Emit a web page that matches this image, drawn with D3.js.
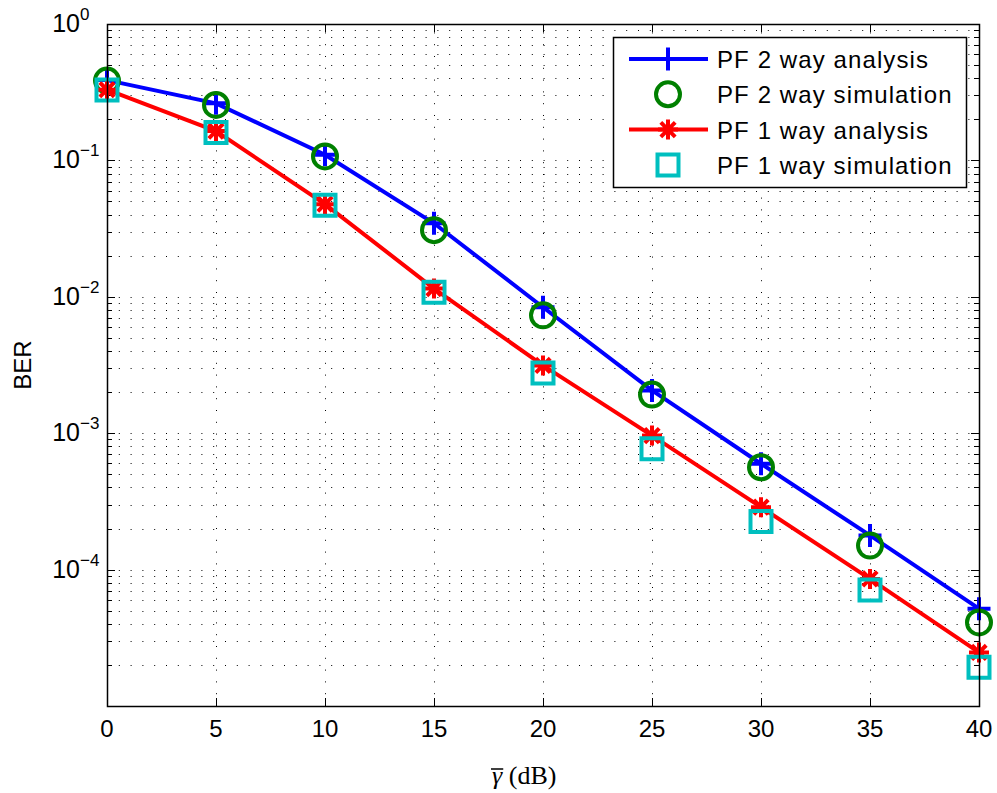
<!DOCTYPE html>
<html>
<head>
<meta charset="utf-8">
<script src="https://cdn.jsdelivr.net/npm/d3@7"></script>
<style>
  body { margin: 0; background: #fff; }
  svg { display: block; }
  text { font-family: "Liberation Sans", Arial, Helvetica, sans-serif; fill: #000; }
</style>
</head>
<body>
<div id="chart"></div>
<script>
// average SNR (dB)
var snr = [0, 5, 10, 15, 20, 25, 30, 35, 40];

// BER curves
var pf2Analysis   = [0.388, 0.262, 0.110, 0.0346, 0.00838, 0.00206, 5.97e-4, 1.78e-4, 5.17e-5];
var pf2Simulation = [0.385, 0.255, 0.107, 0.0308, 0.00731, 0.00192, 5.63e-4, 1.50e-4, 4.10e-5];
var pf1Analysis   = [0.330, 0.164, 0.0478, 0.0115, 0.00314, 9.6e-4, 2.87e-4, 8.55e-5, 2.47e-5];
var pf1Simulation = [0.328, 0.160, 0.0470, 0.0108, 0.00276, 7.7e-4, 2.25e-4, 7.10e-5, 1.92e-5];

var xTicks = [0, 5, 10, 15, 20, 25, 30, 35, 40];
var yTickExps = [0, -1, -2, -3, -4];
var legendLabels = ["PF 2 way analysis", "PF 2 way simulation", "PF 1 way analysis", "PF 1 way simulation"];

var W = 997, H = 793;
var margin = { top: 24, left: 107, bottom: 87, right: 18 };
var width = W - margin.left - margin.right;
var height = H - margin.top - margin.bottom;

var svg = d3.select("#chart").append("svg")
    .attr("width", W)
    .attr("height", H);

svg.append("rect").attr("width", W).attr("height", H).attr("fill", "#fff");

var g = svg.append("g")
    .attr("transform", "translate(" + margin.left + "," + margin.top + ")");

var x = d3.scaleLinear().domain([0, 40]).range([0, width]);
var y = d3.scaleLog().domain([1e-5, 1]).range([height, 0]);

// minor tick values 2..9 x 10^k
var minorTicks = [];
for (var e = -5; e < 0; e++) {
    for (var m = 2; m <= 9; m++) {
        var v = m * Math.pow(10, e);
        if (v >= 1e-5 && v <= 1) minorTicks.push(v);
    }
}
var majorTicks = yTickExps.map(function(k) { return Math.pow(10, k); });

// dotted grid
var grid = g.append("g").attr("class", "grid")
    .attr("stroke", "#000")
    .attr("stroke-width", 1)
    .attr("stroke-dasharray", "1,10.8");

grid.selectAll("line.hy")
    .data(majorTicks.concat(minorTicks).filter(function(d) { return d < 1; }))
    .enter().append("line")
    .attr("x1", 0).attr("x2", width)
    .attr("y1", function(d) { return Math.round(y(d)) + 0.5; })
    .attr("y2", function(d) { return Math.round(y(d)) + 0.5; });

grid.selectAll("line.vx")
    .data(xTicks.slice(1, -1))
    .enter().append("line")
    .attr("y1", height).attr("y2", 0)
    .attr("x1", function(d) { return Math.round(x(d)) + 0.5; })
    .attr("x2", function(d) { return Math.round(x(d)) + 0.5; });

// ticks (inward, all four sides)
var ticks = g.append("g").attr("stroke", "#000").attr("stroke-width", 1);
function yTicks(list, len) {
    list.forEach(function(d) {
        var yy = Math.round(y(d)) + 0.5;
        ticks.append("line").attr("x1", 0).attr("x2", len).attr("y1", yy).attr("y2", yy);
        ticks.append("line").attr("x1", width).attr("x2", width - len).attr("y1", yy).attr("y2", yy);
    });
}
yTicks(majorTicks, 8);
yTicks(minorTicks, 5);
xTicks.forEach(function(d) {
    var xx = Math.round(x(d)) + 0.5;
    ticks.append("line").attr("x1", xx).attr("x2", xx).attr("y1", height).attr("y2", height - 8);
    ticks.append("line").attr("x1", xx).attr("x2", xx).attr("y1", 0).attr("y2", 8);
});

// x tick labels
g.append("g").selectAll("text")
    .data(xTicks)
    .enter().append("text")
    .attr("x", function(d) { return x(d); })
    .attr("y", height + 31)
    .attr("text-anchor", "middle")
    .attr("font-size", 24)
    .text(function(d) { return d; });

// y tick labels 10^k
var yl = g.append("g").selectAll("g")
    .data(yTickExps)
    .enter().append("g")
    .attr("transform", function(d) { return "translate(-27," + y(Math.pow(10, d)) + ")"; });
yl.append("text")
    .attr("text-anchor", "end")
    .attr("y", 8)
    .attr("font-size", 25)
    .text("10");
yl.append("text")
    .attr("x", 0)
    .attr("y", -4)
    .attr("font-size", 17)
    .text(function(d) { return d === 0 ? "0" : "\u2212" + (-d); });

// axis labels
svg.append("text")
    .attr("transform", "translate(31," + (margin.top + y(Math.pow(10, -2.5))) + ") rotate(-90)")
    .attr("text-anchor", "middle")
    .attr("font-size", 24)
    .text("BER");

var xl = svg.append("text")
    .attr("x", 492)
    .attr("y", H - 9)
    .attr("font-size", 26)
    .style("font-family", "'Liberation Serif', 'DejaVu Serif', serif");
xl.append("tspan").style("font-style", "italic").text("\u03B3");
xl.append("tspan").text(" (dB)");
// overline over gamma
var gw = xl.node().getSubStringLength(0, 1);
svg.append("line")
    .attr("x1", 491).attr("x2", 493 + gw)
    .attr("y1", H - 24).attr("y2", H - 24)
    .attr("stroke", "#000").attr("stroke-width", 1.5);

// marker shapes
function plusPath(r) { return "M" + (-r) + ",0H" + r + "M0," + (-r) + "V" + r; }
function starPath(r) {
    var d = r * 0.72;
    return plusPath(r) + "M" + (-d) + "," + (-d) + "L" + d + "," + d + "M" + (-d) + "," + d + "L" + d + "," + (-d);
}
function squarePath(r) { return "M" + (-r) + "," + (-r) + "H" + r + "V" + r + "H" + (-r) + "Z"; }
function circlePath(r) { return "M" + r + ",0A" + r + "," + r + " 0 1,1 " + (-r) + ",0A" + r + "," + r + " 0 1,1 " + r + ",0Z"; }

var series = [
    { values: pf2Analysis,   color: "#0000ff", line: true,  marker: plusPath(11.5) },
    { values: pf2Simulation, color: "#008000", line: false, marker: circlePath(12) },
    { values: pf1Analysis,   color: "#ff0000", line: true,  marker: starPath(10) },
    { values: pf1Simulation, color: "#00bfbf", line: false, marker: squarePath(10.5) }
];

var lineGen = d3.line()
    .x(function(d, i) { return x(snr[i]); })
    .y(function(d) { return y(d); });

var plot = g.append("g");
series.forEach(function(s) {
    if (s.line) {
        plot.append("path")
            .attr("d", lineGen(s.values))
            .attr("fill", "none")
            .attr("stroke", s.color)
            .attr("stroke-width", 4);
    }
    plot.append("g").selectAll("path")
        .data(s.values)
        .enter().append("path")
        .attr("transform", function(d, i) { return "translate(" + x(snr[i]) + "," + y(d) + ")"; })
        .attr("d", s.marker)
        .attr("fill", "none")
        .attr("stroke", s.color)
        .attr("stroke-width", 4);
});

// axes box
g.append("rect")
    .attr("x", 0.5).attr("y", 0.5)
    .attr("width", width).attr("height", height)
    .attr("fill", "none")
    .attr("stroke", "#000")
    .attr("stroke-width", 1.5);

// legend
var lg = svg.append("g").attr("transform", "translate(613,37)");
lg.append("rect")
    .attr("x", 0.5).attr("y", 0.5)
    .attr("width", 353).attr("height", 150)
    .attr("fill", "#fff")
    .attr("stroke", "#000")
    .attr("stroke-width", 1.5);

var items = lg.selectAll("g.item")
    .data(series)
    .enter().append("g")
    .attr("transform", function(d, i) { return "translate(0," + (22 + i * 35.3) + ")"; });
items.filter(function(d) { return d.line; }).append("line")
    .attr("x1", 16).attr("x2", 95)
    .attr("stroke", function(d) { return d.color; })
    .attr("stroke-width", 4);
items.append("path")
    .attr("transform", "translate(55,0)")
    .attr("d", function(d) { return d.marker; })
    .attr("fill", "none")
    .attr("stroke", function(d) { return d.color; })
    .attr("stroke-width", 4);
items.append("text")
    .attr("x", 104)
    .attr("y", 9)
    .attr("font-size", 24)
    .attr("letter-spacing", 1.1)
    .text(function(d, i) { return legendLabels[i]; });
</script>
</body>
</html>
